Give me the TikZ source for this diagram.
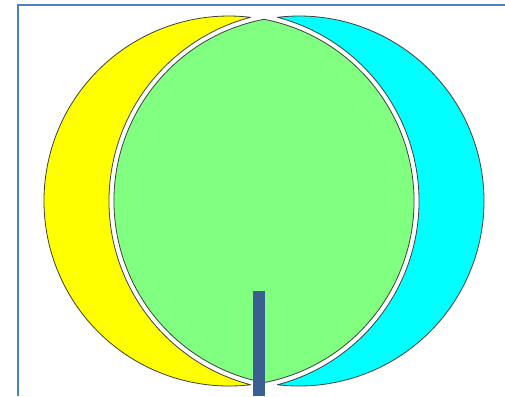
\documentclass[tikz,border=0pt]{standalone}
\definecolor{framec}{RGB}{79,129,189}
\definecolor{barc}{RGB}{58,95,145}
\definecolor{greenc}{RGB}{128,255,128}
\definecolor{yellowc}{RGB}{255,255,0}
\definecolor{cyanc}{RGB}{0,255,255}
\definecolor{edgec}{RGB}{64,64,64}
\begin{document}
\begin{tikzpicture}[x=1pt,y=-1pt,
  shapeedge/.style={draw=edgec,line width=0.8pt,line join=round}]
\useasboundingbox (0,0) rectangle (505,396);
\fill[white] (0,0) rectangle (505,396);
% yellow crescent: circle A minus enlarged circle B
\fill[yellowc,shapeedge] (250.6,17.3) arc[start angle=-83.29,end angle=-276.71,radius=185]
  arc[start angle=104.76,end angle=255.24,radius=190] -- cycle;
% cyan crescent: circle B minus enlarged circle A
\fill[cyanc,shapeedge] (277.4,17.3) arc[start angle=-96.71,end angle=96.71,radius=185]
  arc[start angle=75.24,end angle=-75.24,radius=190] -- cycle;
% green lens: intersection of circles A and B
\fill[greenc,shapeedge] (264,19.3) arc[start angle=259.1,end angle=100.9,radius=185]
  arc[start angle=79.1,end angle=-79.1,radius=185] -- cycle;
% bar
\fill[barc] (253,291) rectangle (265,396);
% frame
\draw[framec,line width=1.5pt] (18,396) -- (18,5) -- (505,5);
\end{tikzpicture}
\end{document}
